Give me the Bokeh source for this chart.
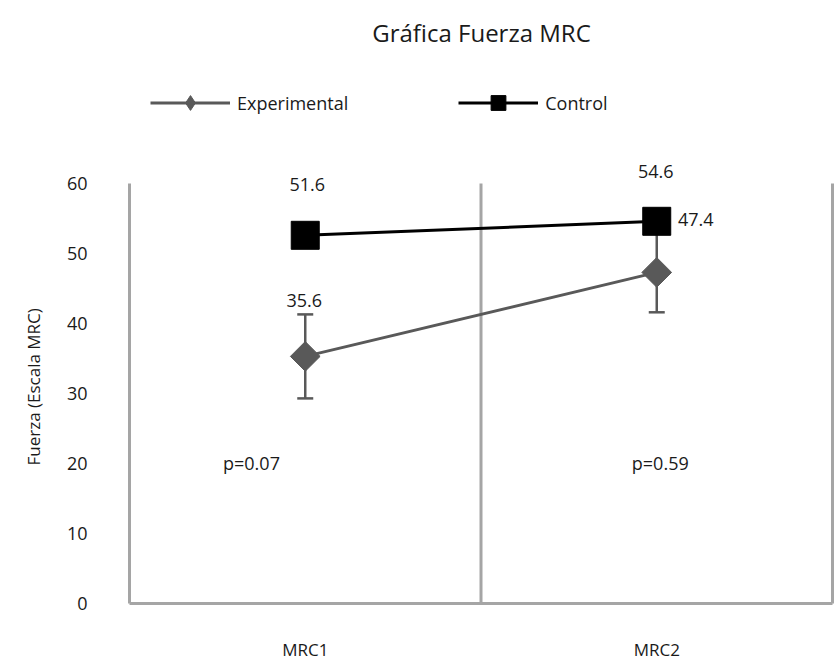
from math import pi
from bokeh.plotting import figure
from bokeh.models import (Range1d, FixedTicker, ColumnDataSource, Whisker, Legend,
                          LegendItem, TeeHead, Label, Title)
from bokeh.embed import file_html
from bokeh.resources import INLINE
from bokeh.core.properties import value

# ---- data ----
categories = ["MRC1", "MRC2"]
cat_x = [0.5, 1.5]
experimental = [35.3, 47.3]
experimental_err = [6.0, 5.7]
control = [52.6, 54.6]
exp_labels = ["35.6", "47.4"]
ctrl_labels = ["51.6", "54.6"]
p_values = ["p=0.07", "p=0.59"]
p_value_x = [0.347, 1.51]
p_value_y = [20, 20]
y_ticks = [0, 10, 20, 30, 40, 50, 60]
y_max = 60
separators_x = [0, 1, 2]

FONT = "Open Sans"
TXT = "#1a1a1a"
GRAY = "#a5a5a5"
EXP_C = "#595959"
CTRL_C = "#000000"

p = figure(width=836, height=664,
           x_range=Range1d(-0.00853, 2.01138), y_range=Range1d(-0.2857, 77.571),
           output_backend="svg", toolbar_location=None,
           min_border_left=126, min_border_right=0, min_border_bottom=59, min_border_top=60)
p.outline_line_color = None
p.xgrid.visible = False
p.ygrid.visible = False

# title
p.title.text = "Gráfica Fuerza MRC"
p.title.align = "center"
p.title.text_font = FONT
p.title.text_font_size = "24px"
p.title.text_font_style = "normal"
p.title.text_color = TXT
p.title.standoff = 23

# axes
xa = p.xaxis[0]
xa.ticker = FixedTicker(ticks=cat_x)
xa.major_label_overrides = {cx: c for cx, c in zip(cat_x, categories)}
xa.axis_line_color = None
xa.major_tick_line_color = None
xa.minor_tick_line_color = None
xa.major_label_standoff = 26
xa.major_label_text_font = FONT
xa.major_label_text_font_size = "17px"
xa.major_label_text_color = TXT

ya = p.yaxis[0]
ya.ticker = FixedTicker(ticks=y_ticks)
ya.axis_line_color = None
ya.major_tick_line_color = None
ya.minor_tick_line_color = None
ya.major_label_standoff = 33
ya.major_label_text_font = FONT
ya.major_label_text_font_size = "18px"
ya.major_label_text_color = TXT

# y-axis title (placed beside the axis, aligned with the 0-60 band)
p.add_layout(Title(text="Fuerza (Escala MRC)", align="left", offset=140, standoff=38,
                   text_font=FONT, text_font_size="17px", text_font_style="normal",
                   text_color=TXT), "left")

# frame lines
p.segment(x0=separators_x, y0=[0] * 3, x1=separators_x, y1=[y_max] * 3,
          line_color=GRAY, line_width=3)
p.segment(x0=[separators_x[0]], y0=[0], x1=[separators_x[-1]], y1=[0],
          line_color=GRAY, line_width=3)

# error bars
err_src = ColumnDataSource(dict(
    x=cat_x,
    upper=[v + e for v, e in zip(experimental, experimental_err)],
    lower=[v - e for v, e in zip(experimental, experimental_err)],
))
wh = Whisker(base="x", upper="upper", lower="lower", source=err_src,
             line_color=EXP_C, line_width=2.5,
             upper_head=TeeHead(size=16, line_color=EXP_C, line_width=2.5),
             lower_head=TeeHead(size=16, line_color=EXP_C, line_width=2.5))
p.add_layout(wh)

# series
exp_line = p.line(cat_x, experimental, line_color=EXP_C, line_width=3)
ctrl_line = p.line(cat_x, control, line_color=CTRL_C, line_width=3)
# diamond key for the legend (sits hidden under the rotated squares)
exp_key = p.scatter(cat_x, experimental, marker="diamond", size=20,
                    fill_color=EXP_C, line_color=EXP_C)
exp_pts = p.scatter(cat_x, experimental, marker="square", angle=pi / 4, size=21,
                    fill_color=EXP_C, line_color=EXP_C)
ctrl_pts = p.scatter(cat_x, control, marker="square", size=28,
                     fill_color=CTRL_C, line_color=CTRL_C)

# data labels
p.text(x=cat_x, y=control, text=ctrl_labels, x_offset=[2, -1], y_offset=[-51, -50],
       text_align="center", text_baseline="middle", text_font=value(FONT),
       text_font_size="18px", text_color=TXT)
p.text(x=cat_x, y=experimental, text=exp_labels, x_offset=[-1, 39], y_offset=[-56, -53],
       text_align="center", text_baseline="middle", text_font=value(FONT),
       text_font_size="18px", text_color=TXT)

# p-values
for t, px, py in zip(p_values, p_value_x, p_value_y):
    p.add_layout(Label(x=px, y=py, text=t, text_align="center", text_baseline="middle",
                       text_font=FONT, text_font_size="18px", text_color=TXT))

# legend
legend = Legend(items=[LegendItem(label="Experimental", renderers=[exp_line, exp_key]),
                       LegendItem(label="Control", renderers=[ctrl_line, ctrl_pts])],
                orientation="horizontal", location=(24, 484),
                glyph_width=80, glyph_height=37, label_standoff=7, spacing=110,
                padding=0, margin=0, border_line_color=None, background_fill_alpha=0,
                label_text_font=FONT, label_text_font_size="18px", label_text_color=TXT)
p.add_layout(legend)

open("out.html", "w").write(file_html(p, INLINE))
